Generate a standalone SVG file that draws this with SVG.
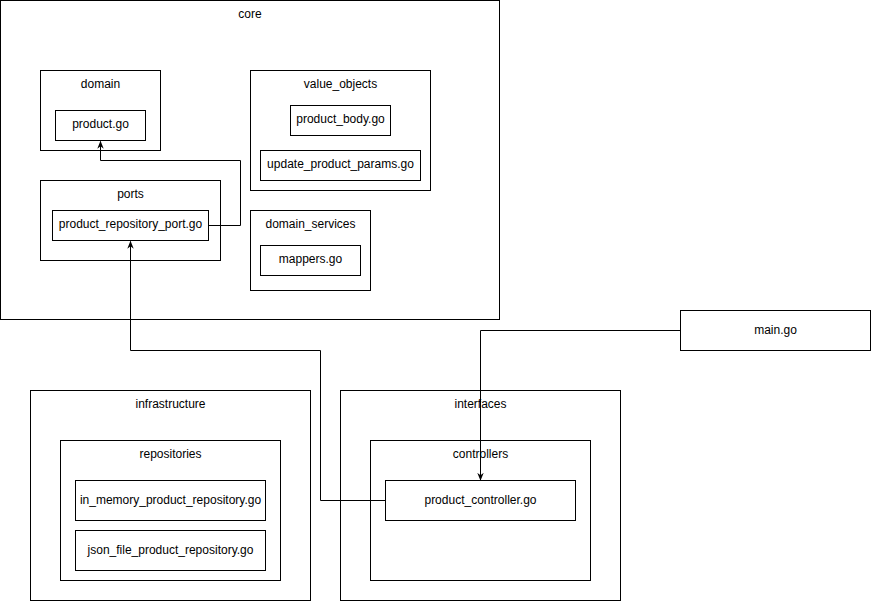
<svg xmlns="http://www.w3.org/2000/svg" width="871" height="601" viewBox="0 0 871 601">
<style>
rect{fill:#fff;stroke:#000;stroke-width:1}
text{font-family:"Liberation Sans",Arial,sans-serif;font-size:12px;fill:#000;text-anchor:middle}
.e{fill:none;stroke:#000;stroke-width:1}
</style>
<defs>
<marker id="a" viewBox="0 0 10 10" refX="9" refY="5" markerWidth="8" markerHeight="8" markerUnits="userSpaceOnUse" orient="auto">
<path d="M0,1 L10,5 L0,9 L3,5 Z" fill="#000"/>
</marker>
</defs>
<rect x="0" y="0" width="871" height="601" style="stroke:none"/>
<g id="core"><rect x="0.5" y="0.5" width="499" height="319"/><text x="250" y="18">core</text></g>
<g id="domain"><rect x="40.5" y="70.5" width="120" height="80"/><text x="100.5" y="88">domain</text></g>
<g id="product_go"><rect x="55.5" y="110.5" width="90" height="30"/><text x="100.5" y="128">product.go</text></g>
<g id="value_objects"><rect x="250.5" y="70.5" width="180" height="120"/><text x="340.5" y="88">value_objects</text></g>
<g id="product_body"><rect x="290.5" y="105.5" width="100" height="30"/><text x="340.5" y="123">product_body.go</text></g>
<g id="update_params"><rect x="260.5" y="150.5" width="160" height="30"/><text x="340.5" y="168">update_product_params.go</text></g>
<g id="ports"><rect x="40.5" y="180.5" width="180" height="80"/><text x="130.5" y="198">ports</text></g>
<g id="repo_port"><rect x="52.5" y="210.5" width="156" height="30"/><text x="130.5" y="228">product_repository_port.go</text></g>
<g id="domain_services"><rect x="250.5" y="210.5" width="120" height="80"/><text x="310.5" y="228">domain_services</text></g>
<g id="mappers"><rect x="260.5" y="245.5" width="100" height="30"/><text x="310.5" y="263">mappers.go</text></g>
<g id="main_go"><rect x="680.5" y="310.5" width="190" height="40"/><text x="775.5" y="334">main.go</text></g>
<g id="infrastructure"><rect x="30.5" y="390.5" width="280" height="210"/><text x="170.5" y="408">infrastructure</text></g>
<g id="repositories"><rect x="60.5" y="440.5" width="220" height="140"/><text x="170.5" y="458">repositories</text></g>
<g id="in_memory"><rect x="75.5" y="480.5" width="190" height="40"/><text x="170.5" y="504">in_memory_product_repository.go</text></g>
<g id="json_file"><rect x="75.5" y="530.5" width="190" height="40"/><text x="170.5" y="554">json_file_product_repository.go</text></g>
<g id="interfaces"><rect x="340.5" y="390.5" width="280" height="210"/><text x="480.5" y="408">interfaces</text></g>
<g id="controllers"><rect x="370.5" y="440.5" width="220" height="140"/><text x="480.5" y="458">controllers</text></g>
<g id="product_controller"><rect x="385.5" y="480.5" width="190" height="40"/><text x="480.5" y="504">product_controller.go</text></g>
<g id="edges">
<path class="e" d="M208.5,225.5 H240.5 V160.5 H100.5 V141.5" marker-end="url(#a)"/>
<path class="e" d="M385.5,500.5 H320.5 V350.5 H130.5 V241.5" marker-end="url(#a)"/>
<path class="e" d="M680.5,330.5 H480.5 V480" marker-end="url(#a)"/>
</g>
</svg>
